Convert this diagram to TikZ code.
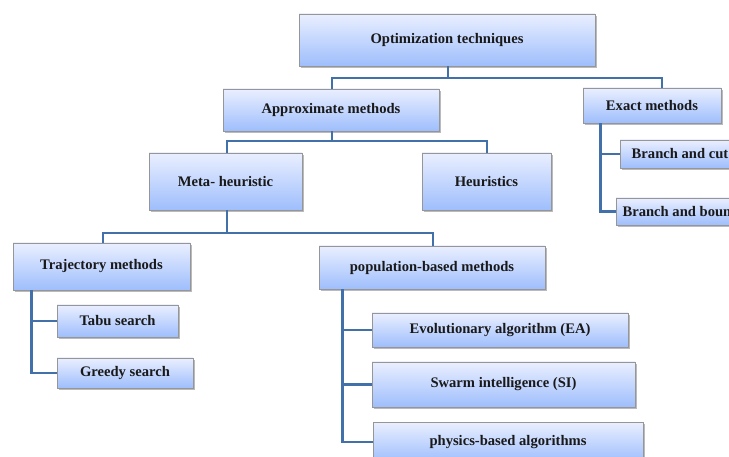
\documentclass[tikz,border=0pt]{standalone}
\usepackage{fontspec}
\setmainfont{Liberation Serif}
\usetikzlibrary{shadows}
\definecolor{boxtop}{RGB}{234,239,255}
\definecolor{boxbot}{RGB}{158,190,252}
\definecolor{boxedge}{RGB}{150,150,150}
\definecolor{linkblue}{RGB}{66,112,168}
\tikzset{
  box/.style={rectangle, draw=boxedge, line width=0.8pt,
    top color=boxtop, bottom color=boxbot,
    drop shadow={shadow xshift=1.6pt, shadow yshift=-1.8pt, opacity=0.45, fill=black!60},
    font=\fontsize{14.6}{17}\selectfont\bfseries, text=black!90, inner sep=2pt},
  link/.style={draw=linkblue, line width=2.6pt, line join=miter}
}
\begin{document}
\begin{tikzpicture}[x=1pt, y=-1pt]
\useasboundingbox (0,0) rectangle (729,457);
\clip (0,0) rectangle (729,457);

% junction points of the tree links
\coordinate (j1) at (448,78);
\coordinate (j2) at (332,141);
\coordinate (j3) at (227,233);

% boxes
\node[box, minimum width=296pt, minimum height=52pt] (opt)    at (447,40)    {Optimization techniques};
\node[box, minimum width=216pt, minimum height=42pt] (approx) at (331,110)   {Approximate methods};
\node[box, minimum width=138pt, minimum height=35pt] (exact)  at (652,105.5) {Exact methods};
\node[box, minimum width=120pt, minimum height=28pt] (bcut)   at (680,154)   {Branch and cut};
\node[box, minimum width=130pt, minimum height=27pt] (bbound) at (681,211.5) {Branch and bound};
\node[box, minimum width=153pt, minimum height=57pt] (meta)   at (225.5,181.5) {Meta- heuristic};
\node[box, minimum width=129pt, minimum height=57pt] (heur)   at (486.5,181.5) {Heuristics};
\node[box, minimum width=177pt, minimum height=47pt] (traj)   at (101.5,266.5) {Trajectory methods};
\node[box, minimum width=121pt, minimum height=32pt] (tabu)   at (117.5,321) {Tabu search};
\node[box, minimum width=136pt, minimum height=30pt] (greedy) at (125,373)   {Greedy search};
\node[box, minimum width=226pt, minimum height=43pt] (pop)    at (432,267.5) {population-based methods};
\node[box, minimum width=256pt, minimum height=34pt] (ea)     at (500,330)   {Evolutionary\ algorithm (EA)};
\node[box, minimum width=263pt, minimum height=45pt] (si)     at (503.5,384.5) {Swarm intelligence (SI)};
\node[box, minimum width=270pt, minimum height=40pt] (phys)   at (508,442)   {physics-based algorithms};

% tree links
\draw[link] (opt.south -| j1) -- (j1);
\draw[link] (approx.north -| j2) |- (j1) -| ([xshift=10pt]exact.north);
\draw[link] (approx.south -| j2) -- (j2);
\draw[link] ([xshift=1.5pt]meta.north) |- (j2) -| ([xshift=0.5pt]heur.north);
\draw[link] ([xshift=1.5pt]meta.south) -- (j3);
\draw[link] ([xshift=1.5pt]traj.north) |- (j3) -| ([xshift=1pt]pop.north);

% side branches
\draw[link] ([xshift=19pt]traj.south west) |- (tabu.west);
\draw[link] ([xshift=19pt]traj.south west) |- (greedy.west);
\draw[link] ([xshift=24pt]pop.south west) |- (ea.west);
\draw[link] ([xshift=24pt]pop.south west) |- (si.west);
\draw[link] ([xshift=24pt]pop.south west) |- (phys.west);
\draw[link] ([xshift=18pt]exact.south west) |- (bcut.west);
\draw[link] ([xshift=18pt]exact.south west) |- (bbound.west);
\end{tikzpicture}
\end{document}
